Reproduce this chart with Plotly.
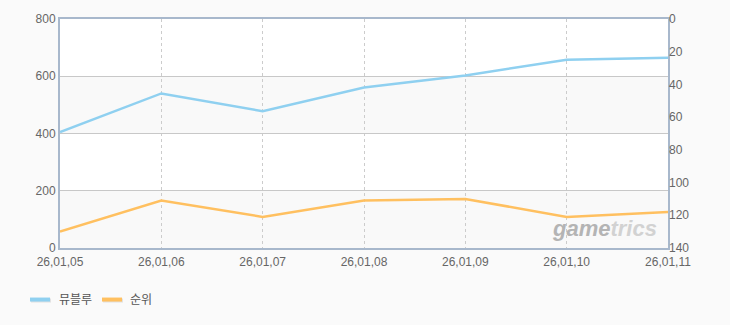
import plotly.graph_objects as go

dates = ["26,01,05", "26,01,06", "26,01,07", "26,01,08", "26,01,09", "26,01,10", "26,01,11"]
users = [405, 540, 478, 561, 603, 658, 665]
rank = [130, 111, 121, 111, 110, 121, 118]
series_names = ["뮤블루", "순위"]
series_colors = ["#8fd0f0", "#ffc060"]

left_ticks = [0, 200, 400, 600, 800]
right_ticks = [0, 20, 40, 60, 80, 100, 120, 140]

fig = go.Figure()
fig.add_trace(go.Scatter(x=dates, y=users, name=series_names[0], mode="lines",
                         line=dict(color=series_colors[0], width=2.5), yaxis="y"))
fig.add_trace(go.Scatter(x=dates, y=rank, name=series_names[1], mode="lines",
                         line=dict(color=series_colors[1], width=2.5), yaxis="y2"))

# alternating background bands
for lo, hi in [(0, 200), (400, 600)]:
    fig.add_shape(type="rect", xref="paper", yref="y", x0=0, x1=1, y0=lo, y1=hi,
                  fillcolor="#f9f9f9", line_width=0, layer="below")

# custom legend (short line swatches)
W, H = 608.0, 231.0
def px(x):
    return (x - 60) / W
def py(y):
    return (248 - y) / H
legend_items = [(30, 57), (102, 128)]
for (lx, tx), name, col in zip(legend_items, series_names, series_colors):
    fig.add_shape(type="line", xref="paper", yref="paper",
                  x0=px(lx + 1), x1=px(lx + 21), y0=py(301), y1=py(301),
                  line=dict(color="#e2e2e2", width=4))
    fig.add_shape(type="line", xref="paper", yref="paper",
                  x0=px(lx), x1=px(lx + 20), y0=py(300), y1=py(300),
                  line=dict(color=col, width=4))
    fig.add_annotation(text=name, xref="paper", yref="paper", x=px(tx), y=py(299),
                       xanchor="left", yanchor="middle", showarrow=False,
                       font=dict(family="Noto Sans CJK KR", size=12, color="#555555"))

fig.add_annotation(text="<b><i><span style='color:#b4b4b4'>game</span>"
                        "<span style='color:#d2d2d2'>trics</span></i></b>",
                   xref="paper", yref="paper",
                   x=0.985, y=0.085, xanchor="right", yanchor="middle", showarrow=False,
                   font=dict(family="Liberation Sans", size=22, color="#c4c4c4"))

axis_font = dict(family="Liberation Sans", size=12, color="#666666")

fig.update_layout(
    width=730, height=325,
    margin=dict(l=60, r=62, t=17, b=77),
    paper_bgcolor="#fafafa", plot_bgcolor="#ffffff",
    showlegend=False,
    xaxis=dict(type="category", range=[0, 6], showgrid=True, gridcolor="#cccccc",
               griddash="3px,3px", gridwidth=1, tickfont=axis_font,
               showline=True, linecolor="#a8b8cc", linewidth=2, mirror=True,
               ticks="", zeroline=False, ticklabelstandoff=2),
    yaxis=dict(range=[0, 800], tickvals=left_ticks, showgrid=True, gridcolor="#c8c8c8",
               tickfont=axis_font, showline=True, linecolor="#a8b8cc", linewidth=2,
               mirror=True, ticks="", zeroline=False),
    yaxis2=dict(range=[140, 0], tickvals=right_ticks, overlaying="y", side="right",
                showgrid=False, tickfont=axis_font, ticks="", zeroline=False,
                showline=False),
)

fig.write_html("out.html")
